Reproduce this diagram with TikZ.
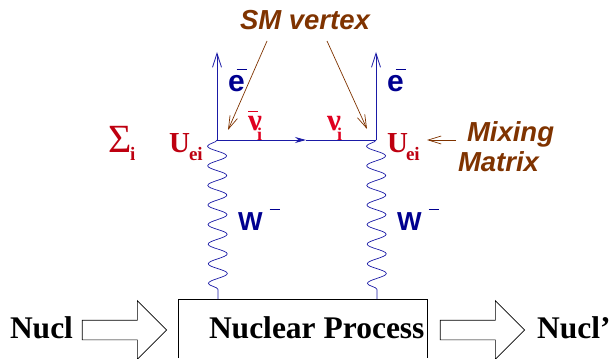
\documentclass[tikz,border=0pt]{standalone}
\usepackage{fontspec}
\setmainfont{Liberation Serif}
\setsansfont{Liberation Sans}
\usetikzlibrary{arrows.meta,shapes.arrows,decorations.pathmorphing}
\definecolor{labelbrown}{HTML}{7F3300}
\definecolor{linkblue}{HTML}{1A1AA6}
\definecolor{partblue}{HTML}{000090}
\definecolor{mixred}{HTML}{BE0010}
\definecolor{nured}{HTML}{E00020}
\newcommand{\fsz}[1]{\fontsize{#1}{#1}\selectfont}

\begin{document}
\begin{tikzpicture}[x=1pt, y=-1pt,
    every node/.style={inner sep=0pt, outer sep=0pt},
    fermion/.style={draw=linkblue, line width=0.8pt},
    boson/.style={draw=linkblue, line width=0.7pt, decorate, decoration={snake, mirror, amplitude=9.5pt, segment length=19.6pt}},
    callout/.style={draw=labelbrown, line width=0.7pt, -{Straight Barb[length=13pt,width=8pt]}},
    brownlabel/.style={text=labelbrown, font=\sffamily\bfseries\itshape\fsz{27.5}, anchor=base west},
    partlabel/.style={text=partblue, font=\sffamily\bfseries, anchor=base west},
    mixlabel/.style={text=mixred, font=\bfseries, anchor=base west},
    nulabel/.style={text=nured, font=\bfseries\fsz{31}, anchor=base west},
    nuclabel/.style={text=black, font=\bfseries\fsz{31.5}, anchor=base west},
    hollow/.style={draw=black, line width=0.6pt, fill=white, single arrow, inner xsep=37pt, inner ysep=9.5pt, single arrow head extend=19.5pt, single arrow tip angle=90, anchor=center}
  ]
\useasboundingbox (0,0) rectangle (609,358);

% Vertices and line ends
\coordinate (vl) at (217,140);
\coordinate (vr) at (376,140);
\coordinate (el) at (217,52);
\coordinate (er) at (376,52);
\coordinate (mid) at (306,140);
\coordinate (wl) at (218,299);
\coordinate (wr) at (377,299);

% Nuclear process box, open at the bottom edge
\coordinate (bl) at (178,358);
\coordinate (tl) at (178,299);
\coordinate (tr) at (427,299);
\coordinate (br) at (427,358);
\draw[line width=0.6pt] (bl) -- (tl) -- (tr) -- (br);

% Fermion lines
\draw[fermion, -{Straight Barb[length=14pt,width=9pt]}] (vl) -- (el);
\draw[fermion, -{Straight Barb[length=14pt,width=9pt]}] (vr) -- (er);
\draw[fermion, -{Stealth[length=11pt,width=6pt]}] (vl) -- (mid);
\draw[fermion] (mid) -- (vr);

% W lines
\draw[boson] (vl) -- (wl);
\draw[boson] (vr) -- (wr);

% Labels
\node[brownlabel] (sm) at (240,30) {SM vertex};
\node[brownlabel] (mix) at (467,142) {Mixing};
\node[brownlabel] (mat) at (458,171) {Matrix};

\coordinate (sml) at (267,41);
\coordinate (smr) at (327,41);
\coordinate (tipl) at (228,130);
\coordinate (tipr) at (367,129);
\draw[callout] (sml) -- (tipl);
\draw[callout] (smr) -- (tipr);
\coordinate (mixfrom) at (456,140);
\coordinate (mixto) at (427,140);
\draw[callout] (mixfrom) -- (mixto);

\node[partlabel, font=\sffamily\bfseries\fsz{30}] (el-txt) at (228,92) {e\kern-8pt\raisebox{22pt}{\rule{10pt}{0.8pt}}};
\node[partlabel, font=\sffamily\bfseries\fsz{30}] (er-txt) at (387,92) {e\kern-8pt\raisebox{22pt}{\rule{10pt}{0.8pt}}};
\node[partlabel, font=\sffamily\bfseries\fsz{26}] (wl-txt) at (238,230) {W\kern7pt\raisebox{20pt}{\rule{10pt}{0.8pt}}};
\node[partlabel, font=\sffamily\bfseries\fsz{26}] (wr-txt) at (397,230) {W\kern7pt\raisebox{20pt}{\rule{10pt}{0.8pt}}};

\node[mixlabel, font=\fsz{40}] (sum) at (108,152) {Σ};
\node[mixlabel, font=\bfseries\fsz{19}] (sum-i) at (130,160) {i};
\node[mixlabel, font=\bfseries\fsz{29}] (ul) at (169,152) {U};
\node[mixlabel, font=\bfseries\fsz{19}] (ul-s) at (189,160) {ei};
\node[mixlabel, font=\bfseries\fsz{29}] (ur) at (387,152) {U};
\node[mixlabel, font=\bfseries\fsz{19}] (ur-s) at (406,160) {ei};

\node[nulabel] (nubar) at (248,131) {ν};
\node[nulabel, font=\bfseries\fsz{18}] (nubar-i) at (257,141) {i};
\node[nulabel] (nubar-b) at (248,112) {\rule{10pt}{0.8pt}};
\node[nulabel] (nu) at (327,131) {ν};
\node[nulabel, font=\bfseries\fsz{18}] (nu-i) at (337,141) {i};

% Nucleon line
\node[nuclabel] (nucl) at (10,338) {Nucl};
\node[hollow] (arrin) at (119.5,330) {};
\node[nuclabel] (proc) at (209,338) {Nuclear Process};
\node[hollow] (arrout) at (477.5,330) {};
\node[nuclabel] (nuclp) at (537,338) {Nucl’};

\end{tikzpicture}
\end{document}
